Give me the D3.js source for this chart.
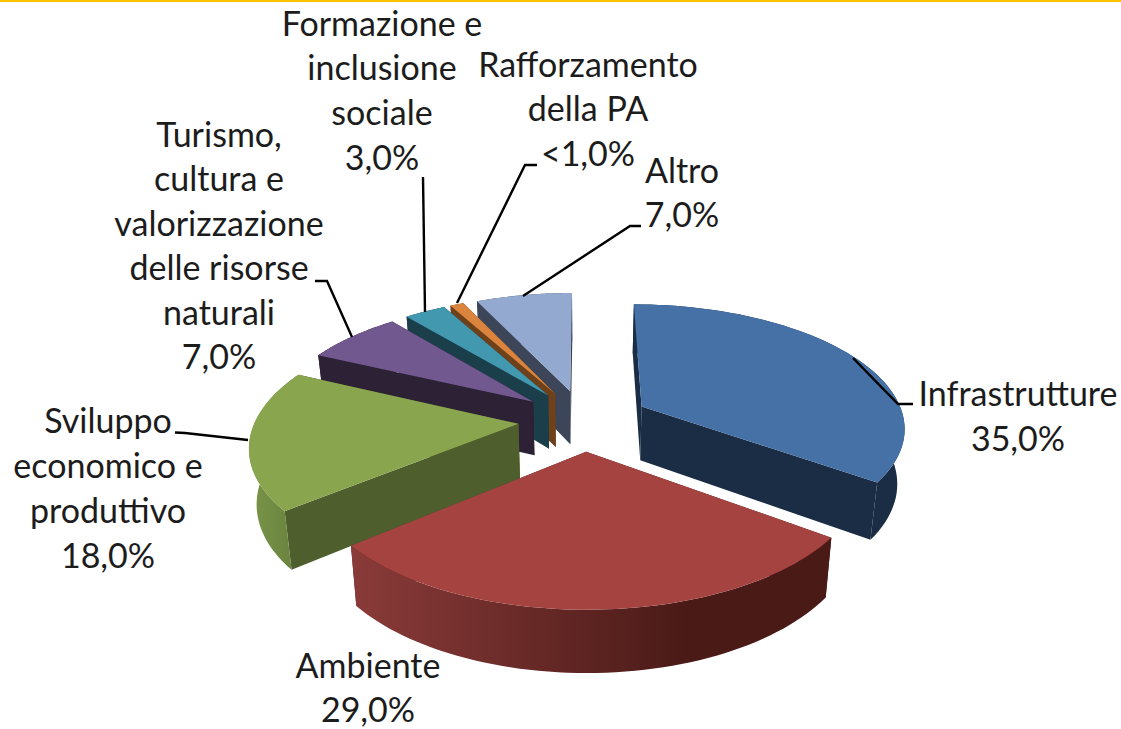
<!DOCTYPE html>
<html>
<head>
<meta charset="utf-8">
<script src="https://cdnjs.cloudflare.com/ajax/libs/d3/7.8.5/d3.min.js"></script>
<style>
  html, body { margin: 0; padding: 0; background: #fff; }
  .lbl { font-family: Lato, "Open Sans", sans-serif; font-size: 34px; fill: #1c1c1c; text-anchor: middle; }
</style>
</head>
<body>
<div id="chart"></div>
<script>
// values
var categories = ["Infrastrutture", "Ambiente", "Sviluppo economico e produttivo",
  "Turismo, cultura e valorizzazione delle risorse naturali",
  "Formazione e inclusione sociale", "Rafforzamento della PA", "Altro"];
var values = [35, 29, 18, 7, 3, 1, 7];
var valueLabels = ["35,0%", "29,0%", "18,0%", "7,0%", "3,0%", "<1,0%", "7,0%"];

var topColors = ["#4571a6", "#a54341", "#89a54e", "#71588f", "#4198af", "#db843d", "#93a9cf"];
var wallColors = ["#1a2d45", "#4a1a17", "#4e5e2c", "#2d2136", "#1a3e4a", "#6e411b", "#3c4658"];
var rimLeftColors = ["#1a2d45", "#8a3b39", "#7a9648", "#2d2136", "#1a3e4a", "#6e411b", "#3c4658"];
var rimRightColors = ["#1a2d45", "#4a1a17", "#6b8540", "#2d2136", "#1a3e4a", "#6e411b", "#3c4658"];

// label text is split by hand like in the picture
var labelLines = [
  ["Infrastrutture", "35,0%"],
  ["Ambiente", "29,0%"],
  ["Sviluppo", "economico e", "produttivo", "18,0%"],
  ["Turismo,", "cultura e", "valorizzazione", "delle risorse", "naturali", "7,0%"],
  ["Formazione e", "inclusione", "sociale", "3,0%"],
  ["Rafforzamento", "della PA", "<1,0%"],
  ["Altro", "7,0%"]
];
var labelCenter = [1018, 368, 108, 219, 382, 588, 682];
var labelFirstY = [406, 678, 433, 147, 35.5, 76.5, 182.5];
var labelStep = [45.2, 44, 45, 44.4, 44.8, 44.8, 44.8];

var leaders = [
  [[853, 358], [898, 404], [913, 404]],
  [],
  [[248, 440], [185, 433], [175, 432.5]],
  [[352, 337], [327, 281], [315, 281]],
  [[425, 312], [423, 177]],
  [[457, 303], [525, 165], [537, 165]],
  [[523, 296], [630, 226], [641, 226]]
];

var width = 1121, height = 729;

// perspective of the tilted pie
var cx = 584, cy = 420, radiusX = 263, radiusY = 122, persp = 0.157, depth = 54.4, shrink = 0.023, explode = 0.25;

function project(u, v, h) {
  var w = 1 / (1 - persp * v);
  return [cx + radiusX * u * w * (1 - shrink * h),
          cy + radiusY * v * w * (1 - shrink * h) + depth * h * w];
}

var svg = d3.select("#chart").append("svg")
  .attr("width", width)
  .attr("height", height)
  .style("display", "block");

var defs = svg.append("defs");

// yellow rule at the top of the slide
svg.append("rect")
  .attr("width", width)
  .attr("height", 2)
  .attr("fill", "#ffc000");

var pie = d3.pie().sort(null).value(function(d) { return d; });
var slices = pie(values);

slices.forEach(function(s, i) {
  var mid = (s.startAngle + s.endAngle) / 2;
  s.i = i;
  s.ox = explode * Math.sin(mid);
  s.oy = -explode * Math.cos(mid);
});

function rimPoints(s, h) {
  var a = d3.range(0, 61).map(function(k) {
    return s.startAngle + (s.endAngle - s.startAngle) * k / 60;
  });
  return a.map(function(t) {
    return project(s.ox + Math.sin(t), s.oy - Math.cos(t), h);
  });
}

var line = d3.line();

// back slices first, the red one goes last
var drawOrder = [6, 5, 4, 3, 2, 0, 1];

drawOrder.forEach(function(i) {
  var s = slices[i];
  var g = svg.append("g").attr("class", "slice");
  var apexTop = project(s.ox, s.oy, 0);
  var apexBot = project(s.ox, s.oy, 1);
  var top = rimPoints(s, 0);
  var bot = rimPoints(s, 1);

  // radial walls
  [[top[0], bot[0]], [top[60], bot[60]]].forEach(function(edge) {
    g.append("path")
      .attr("d", line([apexTop, edge[0], edge[1], apexBot]) + "Z")
      .attr("fill", wallColors[i]);
  });

  // outer wall with the gradient
  var xs = top.concat(bot).map(function(p) { return p[0]; });
  var grad = defs.append("linearGradient")
    .attr("id", "rim" + i)
    .attr("gradientUnits", "userSpaceOnUse")
    .attr("x1", d3.min(xs)).attr("x2", d3.max(xs))
    .attr("y1", 0).attr("y2", 0);
  grad.append("stop").attr("offset", "0%").attr("stop-color", rimLeftColors[i]);
  grad.append("stop").attr("offset", "70%").attr("stop-color", rimRightColors[i]);
  grad.append("stop").attr("offset", "100%").attr("stop-color", rimRightColors[i]);

  g.append("path")
    .attr("d", line(top.concat(bot.slice().reverse())) + "Z")
    .attr("fill", "url(#rim" + i + ")");

  // top face
  g.append("path")
    .attr("d", line([apexTop].concat(top)) + "Z")
    .attr("fill", topColors[i]);
});

// leader lines
svg.selectAll("path.leader")
  .data(leaders.filter(function(d) { return d.length; }))
  .enter()
  .append("path")
  .attr("class", "leader")
  .attr("d", function(d) { return line(d); })
  .attr("fill", "none")
  .attr("stroke", "#000")
  .attr("stroke-width", 2.4);

// labels
labelLines.forEach(function(lines, i) {
  var t = svg.append("text")
    .attr("class", "lbl");
  lines.forEach(function(txt, k) {
    t.append("tspan")
      .attr("x", labelCenter[i])
      .attr("y", labelFirstY[i] + k * labelStep[i])
      .text(txt);
  });
});
</script>
</body>
</html>
